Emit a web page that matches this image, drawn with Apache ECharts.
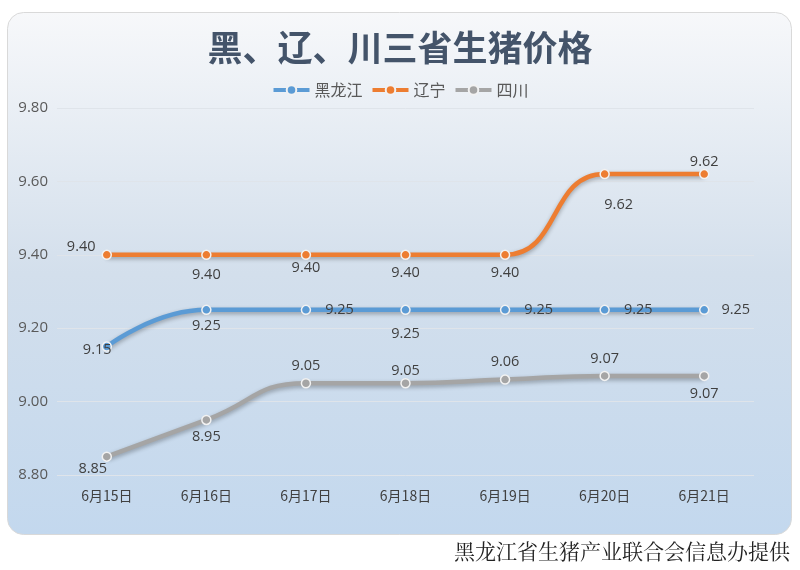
<!DOCTYPE html>
<html><head><meta charset="utf-8">
<script src="https://cdn.jsdelivr.net/npm/echarts@6/dist/echarts.min.js"></script>
<style>html,body{margin:0;padding:0;background:#fff}#c{width:800px;height:570px}</style>
</head><body><div id="c"></div>
<script>
var categories = ['6月15日','6月16日','6月17日','6月18日','6月19日','6月20日','6月21日'];
var heilongjiang = [9.15, 9.25, 9.25, 9.25, 9.25, 9.25, 9.25];
var liaoning = [9.40, 9.40, 9.40, 9.40, 9.40, 9.62, 9.62];
var sichuan = [8.85, 8.95, 9.05, 9.05, 9.06, 9.07, 9.07];
var yTicks = [8.80, 9.00, 9.20, 9.40, 9.60, 9.80];

var hljPos = [['left',-14,[-4,3]],['bottom',4],['right',14],['bottom',12],['right',14],['right',14],['right',12]];
var lnPos = [['left',6,[0,-8]],['bottom',8],['bottom',1],['bottom',6],['bottom',6],['bottom',12,[14,6]],['top',0]];
var scPos = [['bottom',4,[-14,-4]],['bottom',4],['top',5],['top',0],['top',5],['top',5],['bottom',5]];

function build(vals, pos){
  return vals.map(function(v,i){
    var p = pos[i];
    var lab = {position:p[0], distance:p[1]};
    if(p[2]) lab.offset = p[2];
    return {value:v, label:lab};
  });
}
var labelStyle = {show:true, color:'#404040', fontSize:14.5, fontFamily:'"Open Sans","Noto Sans CJK SC",sans-serif', formatter:function(p){return p.value.toFixed(2);}};
function series(name, color, vals, pos){
  return {
    name:name, type:'line', smooth:0.5, data:build(vals,pos),
    symbol:'circle', symbolSize:9,
    itemStyle:{color:color, borderColor:'#f2f2f2', borderWidth:1.5},
    lineStyle:{color:color, width:4.5, shadowColor:'rgba(0,0,0,0.3)', shadowBlur:4, shadowOffsetY:2},
    label:labelStyle
  };
}
var chart = echarts.init(document.getElementById('c'));
chart.setOption({
  animation:false,
  backgroundColor:'#ffffff',
  graphic:[{
    type:'rect', z:-10, silent:true,
    shape:{x:7.5, y:12.5, width:784, height:522, r:16},
    style:{
      fill:new echarts.graphic.LinearGradient(0,0,0,1,[{offset:0,color:'#f7f8fa'},{offset:0.5,color:'#d3dfec'},{offset:1,color:'#c3d8ee'}]),
      stroke:'#d9d9d9', lineWidth:1
    }
  },{
    type:'text', right:10, top:541,
    style:{text:'黑龙江省生猪产业联合会信息办提供', fontSize:21, fill:'#222222', fontFamily:'"Noto Serif CJK SC","Noto Sans CJK SC",serif'}
  }],
  title:{text:'黑、辽、川三省生猪价格', left:'center', top:25,
    textStyle:{fontSize:35, fontWeight:'bold', color:'#44546a', fontFamily:'"Noto Sans CJK SC",sans-serif'}},
  legend:{top:77, left:'center', itemWidth:36, itemHeight:12, itemGap:8,
    lineStyle:{width:4},
    textStyle:{fontSize:16, color:'#595959', fontFamily:'"Noto Sans CJK SC",sans-serif'},
    data:['黑龙江','辽宁','四川']},
  grid:{left:57, right:46, top:108, bottom:95},
  xAxis:{type:'category', data:categories, boundaryGap:true,
    axisLine:{show:false}, axisTick:{show:false},
    axisLabel:{color:'#404040', fontSize:14, margin:14, fontFamily:'"Noto Sans CJK SC",sans-serif'}},
  yAxis:{type:'value', min:yTicks[0], max:yTicks[yTicks.length-1], interval:0.2,
    axisLabel:{color:'#595959', fontSize:15, margin:9, fontFamily:'"Open Sans",sans-serif', formatter:function(v){return v.toFixed(2);}},
    splitLine:{lineStyle:{color:'#dfe4ea', width:1}}},
  series:[
    series('黑龙江','#5b9bd5',heilongjiang,hljPos),
    series('辽宁','#ed7d31',liaoning,lnPos),
    series('四川','#a5a5a5',sichuan,scPos)
  ]
});
</script></body></html>
